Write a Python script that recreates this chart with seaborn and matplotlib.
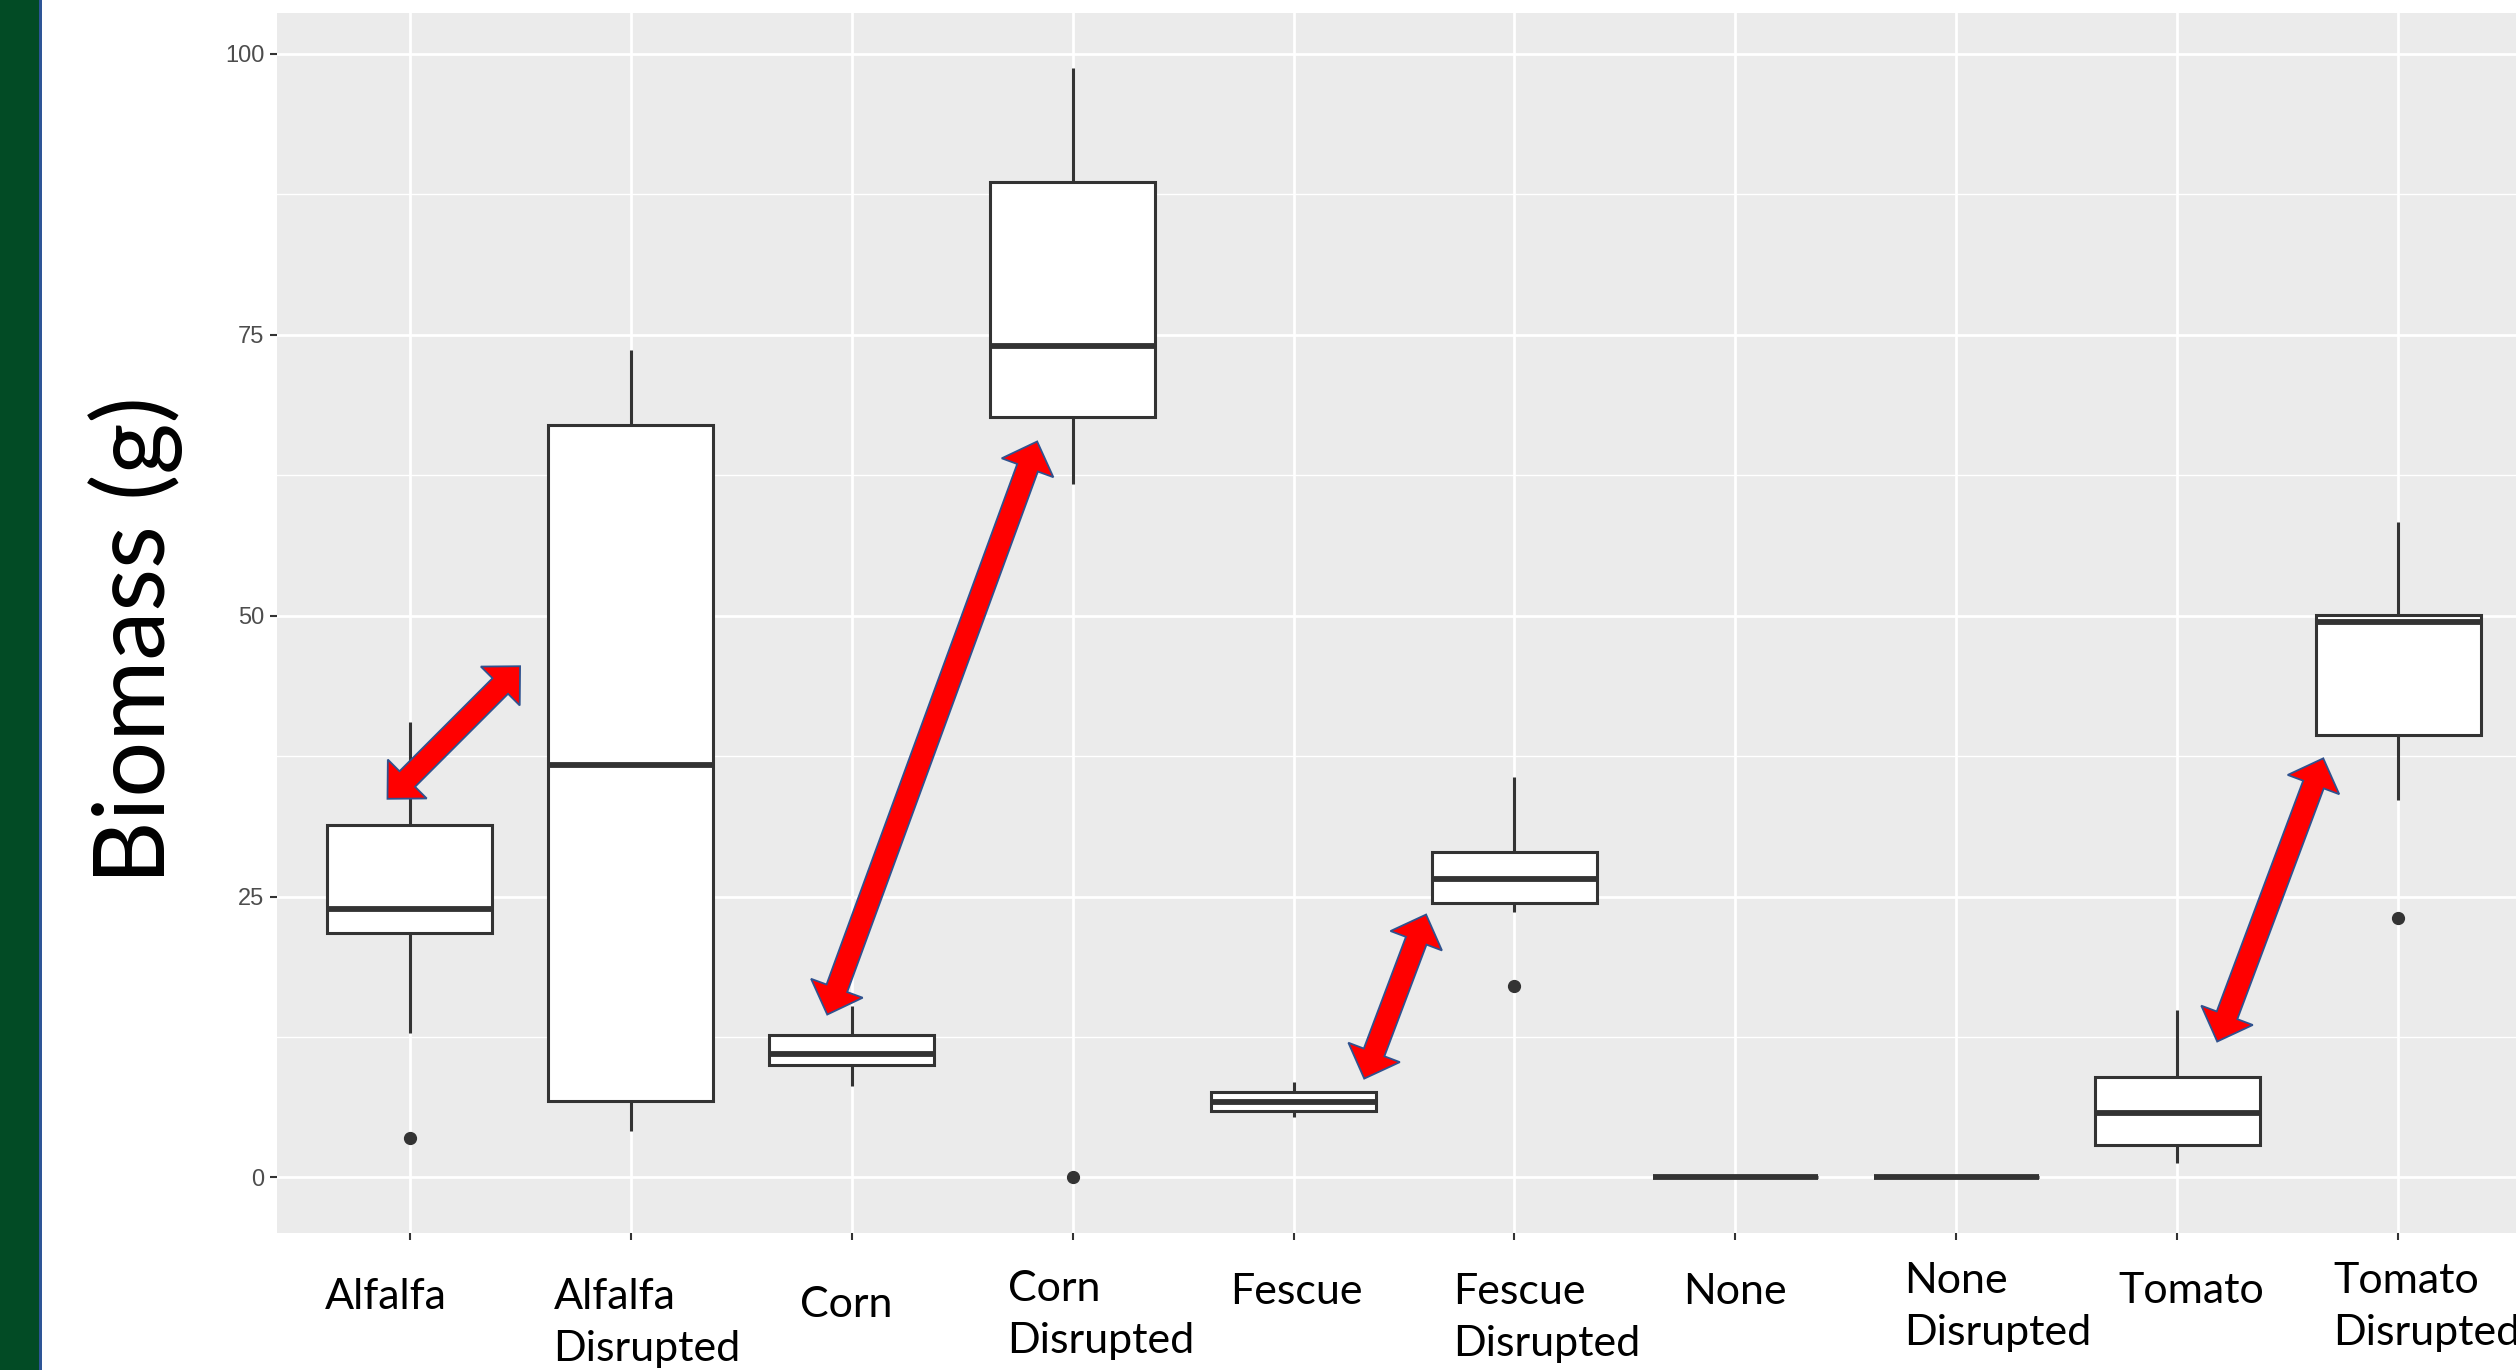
import numpy as np
import pandas as pd
import matplotlib
matplotlib.use("Agg")
import matplotlib.pyplot as plt
import seaborn as sns
from matplotlib.patches import Rectangle, Polygon
from matplotlib.ticker import MultipleLocator

# categories and x labels (slide text)
groups = ["Alfalfa", "Alfalfa Disrupted", "Corn", "Corn Disrupted", "Fescue",
          "Fescue Disrupted", "None", "None Disrupted", "Tomato", "Tomato Disrupted"]
labels = ["Alfalfa", "Alfalfa\nDisrupted", "Corn", "Corn\nDisrupted", "Fescue",
          "Fescue\nDisrupted", "None", "None\nDisrupted", "Tomato", "Tomato\nDisrupted"]

alfalfa = [3.5, 12.9, 21.8, 22.9, 23.9, 27.5, 31.4, 36.0, 40.5]
alfalfa_disrupted = [4.1, 6.8, 36.7, 67.0, 73.6]
corn = [8.1, 10.0, 11.0, 12.7, 15.3]
corn_disrupted = [0.0, 61.7, 67.7, 70.5, 74.0, 81.0, 88.6, 93.0, 98.7]
fescue = [5.4, 5.9, 6.7, 7.6, 8.5]
fescue_disrupted = [17.0, 23.6, 24.4, 25.5, 26.6, 27.8, 29.0, 32.0, 35.6]
none = [0.0, 0.0, 0.0, 0.0, 0.0]
none_disrupted = [0.0, 0.0, 0.0, 0.0, 0.0]
tomato = [1.3, 2.9, 5.7, 8.9, 14.9]
tomato_disrupted = [23.1, 33.6, 39.4, 44.0, 49.4, 49.8, 50.1, 54.0, 58.3]

# red comparison arrows: (x0, y0) -> (x1, y1) in data units
arrow_x0 = [-0.10, 1.89, 4.32, 8.18]
arrow_y0 = [33.7, 14.5, 8.8, 12.1]
arrow_x1 = [0.50, 2.84, 4.60, 8.66]
arrow_y1 = [45.5, 65.5, 23.4, 37.3]

# label placement: px from tick to text left, px below panel to text top
label_dx = [-85, -77, -52, -65, -63, -61, -52, -52, -59, -65]
label_dy = [45, 45, 53, 37, 40, 40, 40, 29, 39, 29]

values = [alfalfa, alfalfa_disrupted, corn, corn_disrupted, fescue,
          fescue_disrupted, none, none_disrupted, tomato, tomato_disrupted]
df = pd.DataFrame({
    "crop": [g for g, v in zip(groups, values) for _ in v],
    "biomass": [x for v in values for x in v],
})

fig = plt.figure(figsize=(25.16, 13.70), dpi=100)
fig.patch.set_facecolor("white")

# slide decoration on the left
fig.patches.append(Rectangle((0, 0), 39 / 2516, 1, transform=fig.transFigure,
                             facecolor="#024B25", edgecolor="none"))
fig.patches.append(Rectangle((39 / 2516, 0), 3 / 2516, 1, transform=fig.transFigure,
                             facecolor="#2E5597", edgecolor="none"))

ax = fig.add_axes([277 / 2516, 0.1, 2254 / 2516, 0.8905])
ax.set_facecolor("#EBEBEB")
for s in ax.spines.values():
    s.set_visible(False)

sns.boxplot(data=df, x="crop", y="biomass", order=groups, color="white",
            saturation=1, linecolor="#333333", linewidth=2.2, width=0.75,
            fliersize=8.5, showcaps=False,
            medianprops={"linewidth": 4.2},
            flierprops={"marker": "o", "markerfacecolor": "#333333",
                        "markeredgecolor": "#333333"},
            ax=ax)

ax.set_xlim(-0.6, 9.6)
ax.set_ylim(-4.94, 103.63)
ax.set_yticks([0, 25, 50, 75, 100])
ax.yaxis.set_minor_locator(MultipleLocator(12.5))
ax.set_axisbelow(True)
ax.grid(which="major", color="white", linewidth=2.0)
ax.grid(which="minor", axis="y", color="white", linewidth=1.0)
ax.tick_params(which="major", length=5, width=1.5, color="#333333",
               labelcolor="#4D4D4D", labelsize=17, pad=4)
ax.tick_params(which="minor", length=0)
ax.set_xticks(range(len(groups)))
ax.set_xticklabels([])
ax.set_xlabel("")
ax.set_ylabel("")
for lab in ax.get_yticklabels():
    lab.set_family(["Liberation Sans", "DejaVu Sans"])

# slide text under the axis
for i, lab in enumerate(labels):
    ax.annotate(lab, xy=(i, 0), xycoords=("data", "axes fraction"),
                xytext=(label_dx[i] * 0.72, -label_dy[i] * 0.72),
                textcoords="offset points", ha="left", va="top",
                multialignment="left", linespacing=1.46, fontsize=31,
                family=["Lato", "DejaVu Sans"], color="black",
                annotation_clip=False)

fig.text(136 / 2516, 1 - 640 / 1370, "Biomass (g)", rotation=90,
         ha="center", va="center", fontsize=71, color="black",
         family=["Lato", "DejaVu Sans"])


def double_arrow(ax, x0, y0, x1, y1, shaft=22, head_w=55, head_l=28):
    p0 = ax.transData.transform((x0, y0))
    p1 = ax.transData.transform((x1, y1))
    d = p1 - p0
    u = d / np.hypot(*d)
    n = np.array([-u[1], u[0]])
    b0 = p0 + u * head_l
    b1 = p1 - u * head_l
    pts = [p1, b1 + n * head_w / 2, b1 + n * shaft / 2, b0 + n * shaft / 2,
           b0 + n * head_w / 2, p0, b0 - n * head_w / 2, b0 - n * shaft / 2,
           b1 - n * shaft / 2, b1 - n * head_w / 2]
    pts = ax.transData.inverted().transform(np.array(pts))
    ax.add_patch(Polygon(pts, closed=True, facecolor="#FF0000",
                         edgecolor="#2F528F", linewidth=1.3, zorder=5,
                         clip_on=False))


for x0, y0, x1, y1 in zip(arrow_x0, arrow_y0, arrow_x1, arrow_y1):
    double_arrow(ax, x0, y0, x1, y1)

fig.savefig("out.png", dpi=100)
